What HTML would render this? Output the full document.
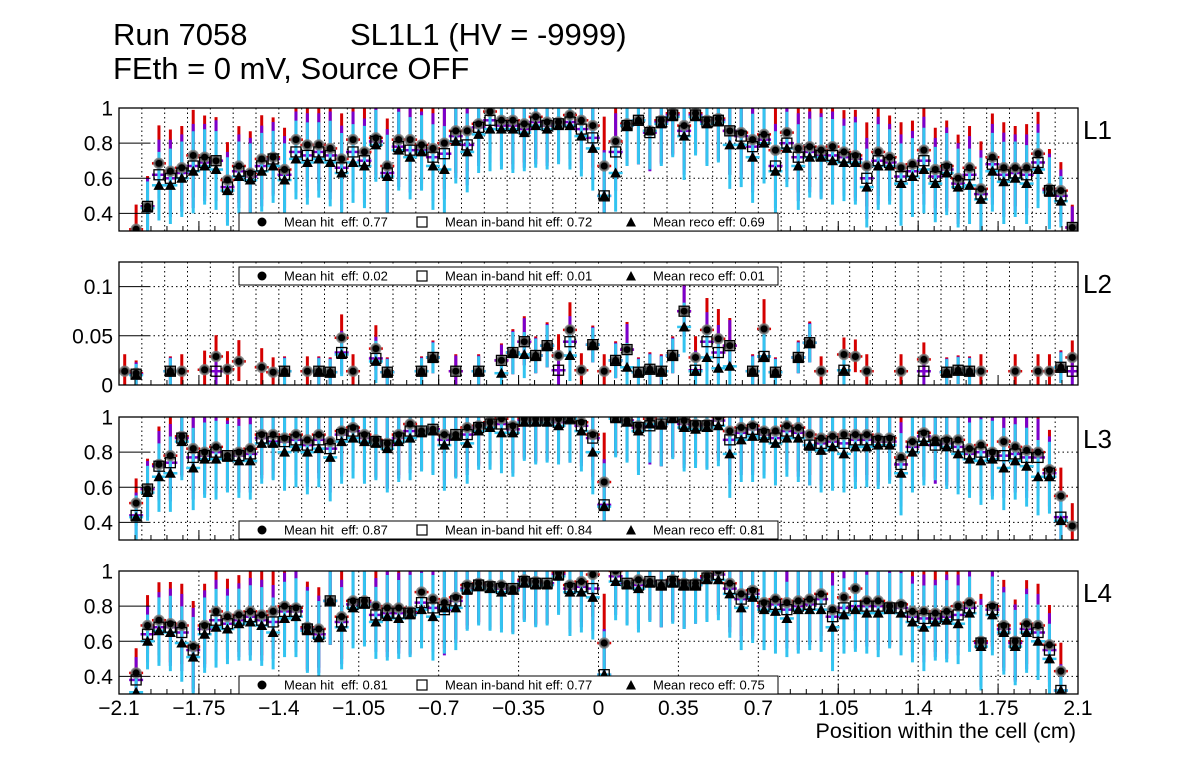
<!DOCTYPE html>
<html><head><meta charset="utf-8">
<style>
html,body{margin:0;padding:0;background:#fff;}
svg{display:block;font-family:"Liberation Sans",Arial,sans-serif;}
text{white-space:pre;}
</style></head>
<body>
<svg id="c" width="1196" height="772" viewBox="0 0 1196 772" xmlns="http://www.w3.org/2000/svg">
<rect width="1196" height="772" fill="#fff"/>
<text x="113" y="45" font-size="31">Run 7058</text>
<text x="350" y="45" font-size="31">SL1L1 (HV = -9999)</text>
<text x="113" y="79" font-size="31">FEth = 0 mV, Source OFF</text>
<text x="1076" y="738" font-size="21.5" text-anchor="end">Position within the cell (cm)</text>
</svg>
<script>
const nBins = 84, binStart = -2.075, binStep = 0.05;
const xTicks = [-2.1,-1.75,-1.4,-1.05,-0.7,-0.35,0,0.35,0.7,1.05,1.4,1.75,2.1];
const xTickLabels = ["\u22122.1","\u22121.75","\u22121.4","\u22121.05","\u22120.7","\u22120.35","0","0.35","0.7","1.05","1.4","1.75","2.1"];
const layerNames = ["L1","L2","L3","L4"];
const meanHit = ["0.77","0.02","0.87","0.81"];
const meanInband = ["0.72","0.01","0.84","0.77"];
const meanReco = ["0.69","0.01","0.81","0.75"];

const hitL1 = [null,0.31,0.44,0.685,0.64,0.66,0.73,0.72,0.70,0.59,0.67,0.63,0.71,0.72,0.65,0.82,0.79,0.79,0.77,0.71,0.82,0.75,0.83,0.67,0.82,0.82,0.79,0.77,0.80,0.87,0.87,0.91,0.98,0.93,0.93,0.91,0.95,0.92,0.92,0.96,0.93,0.90,0.67,0.81,0.91,0.93,0.87,0.93,0.97,0.90,0.97,0.93,0.94,0.87,0.86,0.82,0.85,0.76,0.86,0.77,0.78,0.76,0.78,0.75,0.73,0.67,0.75,0.72,0.66,0.68,0.76,0.65,0.67,0.60,0.66,0.54,0.72,0.66,0.66,0.66,0.74,0.54,0.53,0.32];
const inbL1 = [null,null,0.44,0.62,0.60,0.63,0.67,0.69,0.70,0.55,0.64,0.61,0.67,0.71,0.62,0.75,0.73,0.75,0.73,0.66,0.75,0.70,0.81,0.63,0.78,0.76,0.76,0.72,0.74,0.84,0.79,0.89,0.93,0.90,0.90,0.88,0.92,0.90,0.91,0.92,0.88,0.83,0.50,0.75,0.90,0.93,0.86,0.92,0.96,0.87,0.96,0.92,0.93,0.87,0.84,0.78,0.82,0.67,0.80,0.72,0.75,0.73,0.73,0.72,0.71,0.60,0.70,0.69,0.61,0.64,0.70,0.61,0.65,0.57,0.62,0.51,0.68,0.62,0.63,0.62,0.69,0.53,0.50,0.32];
const recoL1 = [null,null,0.43,0.56,0.56,0.60,0.64,0.67,0.65,0.53,0.61,0.59,0.64,0.67,0.59,0.71,0.69,0.71,0.69,0.63,0.69,0.67,0.79,0.61,0.76,0.72,0.75,0.67,0.65,0.81,0.75,0.85,0.88,0.88,0.88,0.86,0.90,0.88,0.90,0.90,0.84,0.77,0.50,0.63,0.90,0.93,0.87,0.91,0.95,0.84,0.95,0.91,0.92,0.79,0.79,0.72,0.80,0.64,0.77,0.67,0.72,0.72,0.70,0.69,0.69,0.55,0.67,0.67,0.57,0.61,0.65,0.57,0.63,0.55,0.56,0.48,0.64,0.58,0.60,0.57,0.65,0.52,0.47,null];

const hitL2 = [.014,.012,null,null,.014,.014,null,.0155,.029,.016,.024,null,.018,.013,.014,null,.014,.014,.013,.048,.014,null,.037,.013,null,null,.014,.028,null,.014,null,.014,null,.025,.033,.044,.030,.040,.030,.056,.015,.041,.014,.025,.036,.013,.016,.014,.030,.075,.028,.056,.047,.040,null,.014,.057,.013,null,.028,.043,.014,null,.031,.029,.014,null,null,.014,null,.026,null,.013,.015,.014,.014,null,null,.014,null,.014,.014,.018,.028];
const inbL2 = [null,.011,null,null,.014,null,null,null,.014,null,null,null,null,null,.014,null,null,.014,.013,.033,null,null,.027,.013,null,null,.014,.028,null,.014,null,.014,null,.025,.033,.044,.030,.040,.015,.044,null,.041,null,.025,.036,.013,.016,.014,.030,.075,.015,.044,.033,.040,null,.014,.029,.013,null,.028,.043,null,null,.015,null,null,null,null,null,null,.014,null,.013,.015,.014,null,null,null,null,null,null,null,.018,.014];
const recoL2 = [null,.010,null,null,.014,null,null,null,null,null,null,null,null,null,.014,null,null,.014,.013,.031,null,null,.024,.013,null,null,.014,.028,null,null,null,.014,null,.012,.033,.031,.030,.040,null,.030,null,.041,null,.025,.018,.013,.016,.014,.030,.059,.014,.028,.017,.019,null,.014,.029,.013,null,.028,.043,null,null,.015,null,null,null,null,null,null,null,null,.013,.015,.014,null,null,null,null,null,null,null,.018,null];

const hitL3 = [null,0.51,0.59,0.73,0.78,0.89,0.82,0.80,0.83,0.78,0.80,0.82,0.90,0.90,0.88,0.90,0.87,0.90,0.86,0.92,0.94,0.90,0.87,0.85,0.90,0.96,0.92,0.93,0.90,0.90,0.94,0.95,0.97,0.99,0.95,0.99,0.99,0.99,0.99,1.0,0.97,0.90,0.63,1.0,0.98,0.95,0.99,0.96,1.0,0.98,0.96,0.96,1.0,0.92,0.94,0.95,0.92,0.92,0.95,0.94,0.90,0.88,0.89,0.90,0.90,0.90,0.88,0.88,0.77,0.86,0.91,0.87,0.87,0.87,0.82,0.84,0.80,0.86,0.83,0.81,0.80,0.70,0.55,0.38];
const inbL3 = [null,0.44,0.59,0.72,0.74,0.88,0.77,0.78,0.80,0.78,0.78,0.79,0.88,0.86,0.86,0.87,0.84,0.87,0.82,0.90,0.92,0.88,0.86,0.84,0.88,0.92,0.92,0.93,0.87,0.90,0.90,0.94,0.96,0.96,0.93,0.98,0.98,0.98,0.97,0.99,0.95,0.88,0.50,1.0,0.98,0.94,0.95,0.96,1.0,0.96,0.95,0.95,0.98,0.87,0.91,0.93,0.90,0.88,0.92,0.91,0.84,0.85,0.86,0.85,0.87,0.87,0.86,0.86,0.73,0.83,0.89,0.84,0.85,0.83,0.79,0.80,0.78,0.78,0.79,0.77,0.77,0.68,0.43,null];
const recoL3 = [null,0.43,0.57,0.66,0.68,0.86,0.71,0.76,0.76,0.77,0.75,0.75,0.85,0.85,0.80,0.83,0.80,0.82,0.77,0.86,0.88,0.86,0.85,0.82,0.86,0.88,0.91,0.92,0.84,0.89,0.85,0.92,0.94,0.91,0.91,0.97,0.97,0.97,0.95,0.99,0.92,0.80,0.49,0.99,0.97,0.92,0.96,0.96,0.99,0.94,0.93,0.94,0.95,0.79,0.87,0.89,0.88,0.85,0.88,0.88,0.84,0.81,0.83,0.79,0.83,0.83,0.84,0.84,0.68,0.80,0.86,0.86,0.83,0.79,0.76,0.75,0.76,0.71,0.75,0.72,0.66,0.66,0.41,null];

const hitL4 = [null,0.42,0.69,0.72,0.70,0.69,0.57,0.69,0.77,0.74,0.75,0.77,0.75,0.77,0.80,0.79,0.68,0.67,0.83,0.74,0.83,0.83,0.80,0.79,0.79,0.77,0.88,0.84,0.82,0.85,0.92,0.93,0.92,0.92,0.90,0.95,0.94,0.93,0.99,0.92,0.94,0.98,0.59,1.0,0.93,0.95,0.94,0.92,0.95,0.93,0.93,0.97,1.0,0.93,0.87,0.89,0.82,0.84,0.82,0.83,0.84,0.87,0.78,0.85,0.90,0.83,0.83,0.80,0.81,0.77,0.77,0.76,0.77,0.80,0.82,0.60,0.80,0.69,0.60,0.70,0.69,0.58,0.43,null];
const inbL4 = [null,0.38,0.64,0.68,0.68,0.65,0.55,0.67,0.72,0.70,0.72,0.74,0.72,0.71,0.77,0.77,0.67,0.64,0.83,0.71,0.81,0.82,0.75,0.76,0.76,0.76,0.82,0.79,0.78,0.83,0.90,0.92,0.91,0.90,0.90,0.94,0.93,0.93,0.98,0.90,0.91,0.90,0.41,0.97,0.93,0.92,0.94,0.92,0.94,0.92,0.92,0.96,0.98,0.90,0.84,0.87,0.80,0.81,0.78,0.80,0.81,0.84,0.74,0.79,0.80,0.80,0.80,0.79,0.79,0.74,0.73,0.73,0.74,0.75,0.79,0.59,0.78,0.67,0.59,0.67,0.65,0.55,0.32,null];
const recoL4 = [null,0.31,0.60,0.66,0.65,0.59,0.51,0.64,0.68,0.67,0.70,0.71,0.69,0.65,0.73,0.74,0.66,0.62,0.83,0.68,0.79,0.81,0.71,0.74,0.73,0.75,0.78,0.74,0.79,0.79,0.89,0.91,0.90,0.88,0.89,0.93,0.92,0.92,0.97,0.88,0.88,0.85,0.41,0.94,0.92,0.90,0.93,0.92,0.93,0.92,0.92,0.95,0.95,0.87,0.79,0.85,0.78,0.77,0.73,0.78,0.78,0.78,0.68,0.75,0.78,0.76,0.76,0.78,0.76,0.71,0.68,0.71,0.72,0.70,0.76,0.57,0.75,0.65,0.57,0.65,0.60,0.50,0.32,null];

const errBig = [0.12,0.13,0.16,0.20,0.22,0.22,0.24,0.22,0.23,0.20,0.21,0.22,0.23,0.21,0.22,0.23,0.24,0.22,0.25,0.24,0.23,0.24,0.21,0.25,0.23,0.24,0.22,0.25,0.26,0.24,0.23,0.22,0.24,0.23,0.25,0.22,0.24,0.23,0.22,0.25,0.23,0.24,0.26,0.22,0.23,0.25,0.22,0.24,0.23,0.25,0.22,0.24,0.23,0.25,0.24,0.26,0.23,0.24,0.22,0.25,0.23,0.24,0.25,0.22,0.24,0.23,0.25,0.22,0.24,0.23,0.25,0.22,0.24,0.23,0.22,0.25,0.23,0.24,0.22,0.23,0.22,0.21,0.15,0.12];
const errSmall = [0.016,0.012,0.014,0.014,0.014,0.016,0.015,0.018,0.020,0.017,0.020,0.016,0.018,0.014,0.014,0.016,0.014,0.014,0.014,0.022,0.016,0.016,0.022,0.014,0.016,0.016,0.014,0.016,0.016,0.016,0.016,0.016,0.016,0.016,0.022,0.024,0.018,0.022,0.020,0.026,0.016,0.018,0.016,0.018,0.026,0.014,0.016,0.016,0.018,0.026,0.020,0.030,0.028,0.026,0.014,0.016,0.028,0.014,0.016,0.016,0.020,0.014,0.016,0.016,0.016,0.016,0.016,0.014,0.016,0.014,0.016,0.014,0.014,0.014,0.014,0.016,0.014,0.014,0.016,0.014,0.016,0.016,0.016,0.016];

const panels = [
 {top:108,bottom:231,ymin:0.3,ymax:1.0,yt:[0.4,0.6,0.8,1],ytl:["0.4","0.6","0.8","1"],hit:hitL1,inb:inbL1,reco:recoL1,err:errBig,legTop:213,gridStep:0.1},
 {top:262,bottom:385,ymin:0,ymax:0.125,yt:[0,0.05,0.1],ytl:["0","0.05","0.1"],hit:hitL2,inb:inbL2,reco:recoL2,err:errSmall,legTop:267,gridStep:0.1},
 {top:417,bottom:540,ymin:0.3,ymax:1.0,yt:[0.4,0.6,0.8,1],ytl:["0.4","0.6","0.8","1"],hit:hitL3,inb:inbL3,reco:recoL3,err:errBig,legTop:521,gridStep:0.1},
 {top:571,bottom:694,ymin:0.3,ymax:1.0,yt:[0.4,0.6,0.8,1],ytl:["0.4","0.6","0.8","1"],hit:hitL4,inb:inbL4,reco:recoL4,err:errBig,legTop:676,gridStep:0.35}
];
const X0 = 119, X1 = 1078, XMIN = -2.1, XMAX = 2.1;
function xs(v){return X0 + (v-XMIN)/(XMAX-XMIN)*(X1-X0);}
const NS = "http://www.w3.org/2000/svg";
const svg = document.getElementById('c');
function mk(tag, attrs, parent){
  const e = document.createElementNS(NS, tag);
  for (const k in attrs) e.setAttribute(k, attrs[k]);
  (parent||svg).appendChild(e);
  return e;
}
panels.forEach((p, pi) => {
  const ys = v => p.bottom - (v-p.ymin)/(p.ymax-p.ymin)*(p.bottom-p.top);
  const g = mk('g', {});
  
  
  const cp = mk('clipPath', {id:'cp'+pi}, g);
  mk('rect', {x:X0, y:p.top, width:X1-X0, height:p.bottom-p.top}, cp);
  const grid = mk('g', {stroke:'#000','stroke-width':1,'stroke-dasharray':'1.5,3'}, g);
  
  
  if (p.gridStep === 0.35) {
    xTicks.forEach(t => { if (t > XMIN && t < XMAX) mk('line', {x1:xs(t),x2:xs(t),y1:p.top,y2:p.bottom}, grid); });
  } else {
    for (let k = -20; k <= 20; k++) { const t = k/10; mk('line', {x1:xs(t),x2:xs(t),y1:p.top,y2:p.bottom}, grid); }
  }
  p.yt.forEach(t => { if (t > p.ymin && t < p.ymax) mk('line', {x1:X0+30,x2:X1,y1:ys(t),y2:ys(t)}, grid); });
  const data = mk('g', {'clip-path':'url(#cp'+pi+')'}, g);
  
  
  const series = [
    {arr:p.hit, col:'#d40000'},
    {arr:p.inb, col:'#7a00cc'},
    {arr:p.reco, col:'#33c4f0'}
  ];
  series.forEach((s, si) => {
    for (let i = 0; i < nBins; i++) {
      const v = s.arr[i]; if (v === null || v === undefined) continue;
      const x = xs(binStart + i*binStep);
      const e = p.err[i] || 0.2;
      const up = e * (si === 0 ? 1.08 : si === 1 ? 1.0 : 0.95);
      const eb = mk('line', {x1:x,x2:x,y1:ys(v-e),y2:ys(v+up),stroke:s.col,'stroke-width':3}, data);
      
      
      mk('line', {x1:x-7,x2:x+7,y1:ys(v),y2:ys(v),stroke:s.col,'stroke-width':2.5}, data);
    }
  });
  for (let i = 0; i < nBins; i++) {
    const x = xs(binStart + i*binStep);
    const h = p.hit[i], b = p.inb[i], r = p.reco[i];
    if (h !== null && h !== undefined) {
      const c = mk('circle', {cx:x, cy:ys(h), r:4.6, fill:'#000', stroke:'#777','stroke-width':2.2,'stroke-opacity':0.8}, data);
      
      
    }
    if (b !== null && b !== undefined) {
      const q = mk('rect', {x:x-5, y:ys(b)-5, width:10, height:10, fill:'none', stroke:'#000','stroke-width':1.3}, data);
      
      
    }
    if (r !== null && r !== undefined) {
      const y = ys(r);
      const t = mk('polygon', {points:(x-5.5)+','+(y+4.5)+' '+(x+5.5)+','+(y+4.5)+' '+x+','+(y-5.5), fill:'#000'}, data);
      
      
    }
  }
  const ax = mk('g', {stroke:'#000','stroke-width':1}, g);
  
  
  p.yt.forEach(t => mk('line', {x1:X0,x2:X0+30,y1:ys(t),y2:ys(t)}, ax));
  xTicks.forEach(t => mk('line', {x1:xs(t),x2:xs(t),y1:p.bottom,y2:p.bottom-10}, ax));
  for (let v = XMIN; v <= XMAX + 1e-9; v += 0.07) mk('line', {x1:xs(v),x2:xs(v),y1:p.bottom,y2:p.bottom-5}, ax);
  const fr = mk('rect', {x:X0, y:p.top, width:X1-X0, height:p.bottom-p.top, fill:'none', stroke:'#000','stroke-width':1.3}, g);
  
  
  p.yt.forEach((t, ti) => {
    const tx = mk('text', {x:113, y:ys(t)+7.5, 'font-size':21, 'text-anchor':'end'}, g);
    
    
    tx.textContent = p.ytl[ti];
  });
  const ln = mk('text', {x:1083, y:p.top+31, 'font-size':26}, g);
  
  
  ln.textContent = layerNames[pi];
  const lg = mk('g', {}, g);
  
  
  const lh = 18, ly = p.legTop, cy = ly + lh/2;
  mk('rect', {x:239, y:ly, width:539, height:lh, fill:'#fff', stroke:'#000','stroke-width':1}, lg);
  mk('circle', {cx:262, cy:cy, r:4.5, fill:'#000'}, lg);
  const t1 = mk('text', {x:284, y:cy+4.5, 'font-size':13}, lg);
  
  
  t1.textContent = 'Mean hit  eff: ' + meanHit[pi];
  mk('rect', {x:417, y:cy-5, width:10, height:10, fill:'none', stroke:'#000','stroke-width':1.2}, lg);
  const t2 = mk('text', {x:445, y:cy+4.5, 'font-size':13}, lg);
  
  
  t2.textContent = 'Mean in-band hit eff: ' + meanInband[pi];
  mk('polygon', {points:'626,'+(cy+4.5)+' 636,'+(cy+4.5)+' 631,'+(cy-5)}, lg);
  const t3 = mk('text', {x:653, y:cy+4.5, 'font-size':13}, lg);
  
  
  t3.textContent = 'Mean reco eff: ' + meanReco[pi];
});
xTicks.forEach((t, i) => {
  const tx = mk('text', {x:xs(t), y:715, 'font-size':21, 'text-anchor':'middle'});
  
  
  tx.textContent = xTickLabels[i];
});
</script>
</body></html>
